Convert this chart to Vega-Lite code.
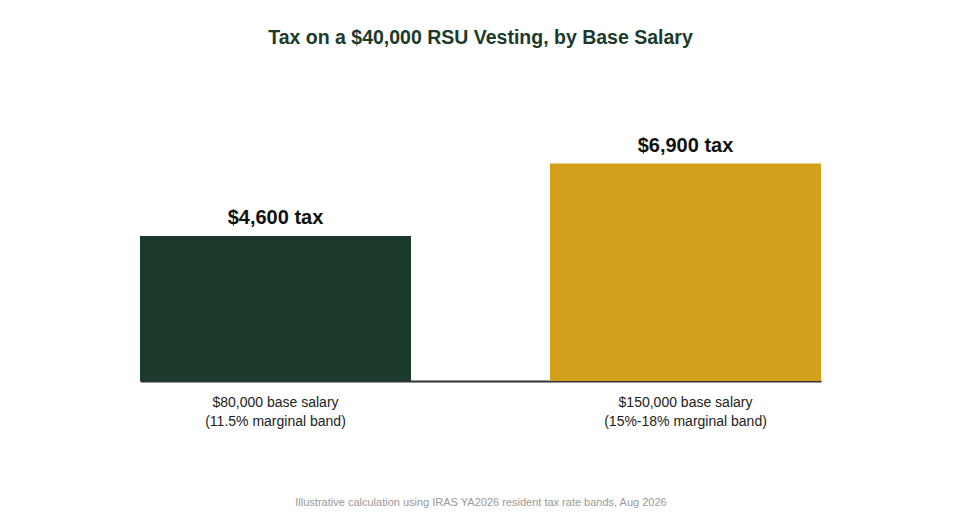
{
  "$schema": "https://vega.github.io/schema/vega-lite/v6.json",
  "description": "Tax on a $40,000 RSU vesting, by base salary",
  "background": "white",
  "autosize": {"type": "none"},
  "padding": {"left": 140, "top": 131, "right": 139, "bottom": 139},
  "width": 681,
  "height": 250,
  "title": {
    "text": "Tax on a $40,000 RSU Vesting, by Base Salary",
    "font": "Liberation Sans",
    "fontSize": 19.5,
    "fontWeight": "bold",
    "color": "#1b3a2b",
    "anchor": "middle",
    "offset": 83
  },
  "data": {
    "values": [
      {"salary": "$80,000 base salary|(11.5% marginal band)", "tax": 4600, "label": "$4,600 tax", "group": "low"},
      {"salary": "$150,000 base salary|(15%-18% marginal band)", "tax": 6900, "label": "$6,900 tax", "group": "high"}
    ]
  },
  "encoding": {
    "x": {
      "field": "salary",
      "type": "nominal",
      "sort": null,
      "scale": {"paddingInner": 0.339, "paddingOuter": 0},
      "title": "Illustrative calculation using IRAS YA2026 resident tax rate bands, Aug 2026",
      "axis": {
        "labelAngle": 0,
        "labelExpr": "split(datum.label, '|')",
        "labelFont": "Liberation Sans",
        "labelFontSize": 14,
        "labelColor": "#222222",
        "labelLineHeight": 19,
        "labelPadding": 14,
        "ticks": false,
        "domainColor": "#333333",
        "domainWidth": 2,
        "titleFont": "Liberation Sans",
        "titleFontSize": 11,
        "titleFontWeight": "normal",
        "titleColor": "#999999",
        "titlePadding": 68
      }
    },
    "y": {
      "field": "tax",
      "type": "quantitative",
      "scale": {"domain": [0, 7935], "nice": false},
      "axis": null
    }
  },
  "layer": [
    {
      "mark": {"type": "bar"},
      "encoding": {
        "color": {
          "field": "group",
          "type": "nominal",
          "scale": {"domain": ["low", "high"], "range": ["#1b3a2b", "#d4a01c"]},
          "legend": null
        }
      }
    },
    {
      "mark": {
        "type": "text",
        "baseline": "bottom",
        "dy": -8,
        "font": "Liberation Sans",
        "fontSize": 20,
        "fontWeight": "bold",
        "color": "#111111"
      },
      "encoding": {
        "text": {"field": "label"}
      }
    }
  ],
  "config": {
    "view": {"stroke": null}
  }
}
